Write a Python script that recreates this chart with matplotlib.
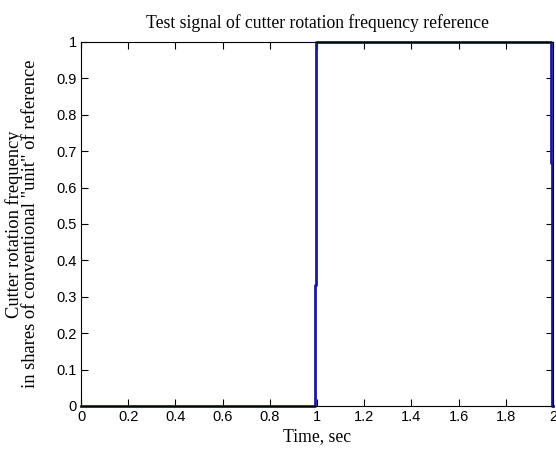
import numpy as np
import matplotlib.pyplot as plt
from matplotlib.ticker import FuncFormatter

# reference signal: off, fast ramp up at t=1 s, hold, fast ramp down at t=2 s
time_s = [0.0, 0.9915, 0.9945, 0.9975, 1.9925, 1.9950, 1.9975, 2.0]
freq_ref = [0.0, 1 / 3, 2 / 3, 1.0, 2 / 3, 1 / 3, 0.0, 0.0]

x_ticks = [0, 0.2, 0.4, 0.6, 0.8, 1.0, 1.2, 1.4, 1.6, 1.8, 2.0]
y_ticks = [0, 0.1, 0.2, 0.3, 0.4, 0.5, 0.6, 0.7, 0.8, 0.9, 1.0]

serif = 'Liberation Serif'
sans = 'Liberation Sans'

fig = plt.figure(figsize=(5.56, 4.49), dpi=100)
ax = fig.add_axes([0.1457, 0.0958, 0.849, 0.8107])

ax.plot(time_s, freq_ref, color='#1a1a99', lw=2.0, drawstyle='steps-post',
        clip_on=False)

ax.set_xlim(0, 2)
ax.set_ylim(0, 1)
ax.set_xticks(x_ticks)
ax.set_yticks(y_ticks)
fmt = FuncFormatter(lambda v, p: f'{v:g}')
ax.xaxis.set_major_formatter(fmt)
ax.yaxis.set_major_formatter(fmt)
ax.tick_params(direction='in', top=True, right=True, length=5, width=0.8,
               labelsize=10.5, pad=3)
for lab in ax.get_xticklabels() + ax.get_yticklabels():
    lab.set_fontfamily(sans)
for sp in ax.spines.values():
    sp.set_linewidth(0.8)

ax.set_title('Test signal of cutter rotation frequency reference',
             fontfamily=serif, fontsize=12.7, pad=10)
ax.set_xlabel('Time, sec', fontfamily=serif, fontsize=12.7, labelpad=3)
ax.set_ylabel('Cutter rotation frequency\nin shares of conventional "unit" of reference',
              fontfamily=serif, fontsize=13.3, linespacing=0.92)
ax.yaxis.set_label_coords(-0.09, 0.5)

fig.savefig('out.png', dpi=100)
